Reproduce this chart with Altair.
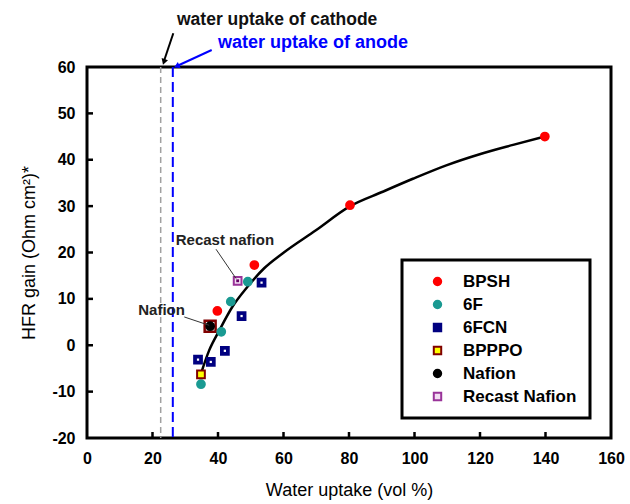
import altair as alt
import pandas as pd

# ---- measured membrane data: water uptake (vol %) vs HFR gain (Ohm cm^2) ----
series_names = ["BPSH", "6F", "6FCN", "BPPPO", "Nafion", "Recast Nafion"]

bpsh_x = [39.8, 51.1, 80.3, 139.8]
bpsh_y = [7.4, 17.3, 30.2, 45.0]

f6_x = [34.8, 41.0, 43.9, 49.1]
f6_y = [-8.4, 2.9, 9.4, 13.7]

fcn_x = [33.9, 37.8, 42.1, 47.2, 53.3]
fcn_y = [-3.1, -3.6, -1.2, 6.3, 13.5]

bpppo_x = [34.8]
bpppo_y = [-6.3]

nafion_x = [37.6]
nafion_y = [4.1]

recast_x = [46.0]
recast_y = [13.9]

# trend line through the data
curve_x = [34.8, 37.3, 40.4, 44.4, 49.0, 54.1, 59.7, 69.9, 80.1, 90.3, 99.5, 109.7, 119.9, 130.1, 139.8]
curve_y = [-6.1, -1.1, 3.2, 8.3, 12.6, 16.6, 19.8, 24.8, 29.9, 33.1, 35.9, 38.8, 41.2, 43.2, 45.0]

# reference water uptakes of the electrodes
cathode_uptake = 22.5
anode_uptake = 26.2

x_ticks = [0, 20, 40, 60, 80, 100, 120, 140, 160]
y_ticks = [-20, -10, 0, 10, 20, 30, 40, 50, 60]

fills = ["#FF0000", "#1A9A92", "#000080", "#FFFF00", "#000000", "#F2DDF2"]
strokes = ["#FF0000", "#1A9A92", "#000080", "#800000", "#000000", "#993399"]
shapes = ["circle", "circle", "square", "square", "circle", "square"]

# ---- tables ----
rows = []
for name, xs, ys in [
    ("BPSH", bpsh_x, bpsh_y),
    ("6F", f6_x, f6_y),
    ("6FCN", fcn_x, fcn_y),
    ("BPPPO", bpppo_x, bpppo_y),
    ("Nafion", nafion_x, nafion_y),
    ("Recast Nafion", recast_x, recast_y),
]:
    for xv, yv in zip(xs, ys):
        rows.append({"series": name, "x": xv, "y": yv})
points_df = pd.DataFrame(rows)
curve_df = pd.DataFrame({"x": curve_x, "y": curve_y})
fcn_df = pd.DataFrame({"x": fcn_x, "y": fcn_y})
recast_df = pd.DataFrame({"x": recast_x, "y": recast_y})
nafion_df = pd.DataFrame({"x": nafion_x, "y": nafion_y})
xt_df = pd.DataFrame({"x": x_ticks[1:-1]})
yt_df = pd.DataFrame({"y": y_ticks[1:-1]})
uptake_df = pd.DataFrame({"x": [cathode_uptake, anode_uptake], "kind": ["cathode", "anode"]})

# point labels and their leader lines (data coordinates)
label_df = pd.DataFrame({
    "x": [27.1, 29.9], "y": [22.7, 7.6],
    "text": ["Recast nafion", "Nafion"], "align": ["left", "right"],
})
leader_df = pd.DataFrame({
    "x": [39.4, 29.7], "y": [20.7, 6.1], "x2": [45.5, 37.3], "y2": [14.4, 4.3],
})

one = pd.DataFrame({"k": [0]})

W, H = 524, 371
FONT = "Liberation Sans"

xscale = alt.Scale(domain=[0, 160], nice=False, zero=False)
yscale = alt.Scale(domain=[-20, 60], nice=False, zero=False)

x_axis = alt.Axis(
    values=x_ticks, ticks=False, domain=False, grid=False,
    labelFontWeight="bold", labelFontSize=16, labelPadding=12, labelFlush=False,
    labelColor="black", title="Water uptake (vol %)", titleFontSize=18,
    titleFontWeight="normal", titlePadding=15, titleColor="black",
)
y_axis = alt.Axis(
    values=y_ticks, ticks=False, domain=False, grid=False,
    labelFontWeight="bold", labelFontSize=16, labelPadding=12,
    labelExpr="'' + datum.value", labelColor="black",
    title="HFR gain (Ohm cm²)*", titleFontSize=18, titleFontWeight="normal",
    titlePadding=13, titleColor="black",
)

legend = alt.Legend(title=None)

base_x = alt.X("x:Q", scale=xscale, axis=x_axis)
base_y = alt.Y("y:Q", scale=yscale, axis=y_axis)

# electrode water-uptake markers
cathode_line = alt.Chart(uptake_df).transform_filter("datum.kind == 'cathode'").mark_rule(
    color="#A0A0A0", strokeWidth=1.5, strokeDash=[6, 4]
).encode(x=base_x)
anode_line = alt.Chart(uptake_df).transform_filter("datum.kind == 'anode'").mark_rule(
    color="#0000FF", strokeWidth=2, strokeDash=[10, 5]
).encode(x=base_x)

curve = alt.Chart(curve_df).mark_line(color="black", strokeWidth=2.5, interpolate="monotone").encode(
    x=base_x, y=base_y
)

nafion_ring = alt.Chart(nafion_df).mark_point(
    shape="square", size=120, filled=False, stroke="#800000", strokeWidth=2.5, opacity=1
).encode(x=base_x, y=base_y)

points = alt.Chart(points_df).mark_point(size=60, strokeWidth=2, fillOpacity=1, opacity=1).encode(
    x=base_x,
    y=base_y,
    fill=alt.Fill("series:N", scale=alt.Scale(domain=series_names, range=fills), legend=legend),
    stroke=alt.Stroke("series:N", scale=alt.Scale(domain=series_names, range=strokes), legend=legend),
    shape=alt.Shape("series:N", scale=alt.Scale(domain=series_names, range=shapes), legend=legend),
)

fcn_dots = alt.Chart(fcn_df).mark_square(size=5, color="white", opacity=1).encode(x=base_x, y=base_y)
recast_dots = alt.Chart(recast_df).mark_square(size=8, color="#660066", opacity=1).encode(x=base_x, y=base_y)

# inward tick marks
x_tick_marks = alt.Chart(xt_df).mark_rule(color="black", strokeWidth=2.5).encode(
    x=base_x, y=alt.value(H), y2=alt.value(H - 6)
)
y_tick_marks = alt.Chart(yt_df).mark_rule(color="black", strokeWidth=2.5).encode(
    y=base_y, x=alt.value(0), x2=alt.value(6)
)

leaders = alt.Chart(leader_df).mark_rule(color="#333333", strokeWidth=1).encode(
    x=base_x, y=base_y, x2="x2:Q", y2="y2:Q"
)
labels_left = alt.Chart(label_df).transform_filter("datum.align == 'left'").mark_text(
    font=FONT, fontSize=15, fontWeight="bold", color="#222222", align="left", baseline="middle"
).encode(x=base_x, y=base_y, text="text:N")
labels_right = alt.Chart(label_df).transform_filter("datum.align == 'right'").mark_text(
    font=FONT, fontSize=15, fontWeight="bold", color="#222222", align="right", baseline="middle"
).encode(x=base_x, y=base_y, text="text:N")

# callouts above the frame
cathode_text = alt.Chart(one).mark_text(
    text="water uptake of cathode", font=FONT, fontSize=17.5, fontWeight="bold", color="#111111",
    align="left", baseline="middle",
).encode(x=alt.value(90), y=alt.value(-47))
anode_text = alt.Chart(one).mark_text(
    text="water uptake of anode", font=FONT, fontSize=18, fontWeight="bold", color="#0000FF",
    align="left", baseline="middle",
).encode(x=alt.value(131), y=alt.value(-24))

cathode_arrow = alt.Chart(one).mark_rule(color="black", strokeWidth=2).encode(
    x=alt.value(86.3), y=alt.value(-33.7), x2=alt.value(77), y2=alt.value(-6)
)
cathode_head = alt.Chart(one).mark_point(
    shape="triangle", size=45, filled=True, color="black", opacity=1, angle=198.5
).encode(x=alt.value(77.2), y=alt.value(-6))
anode_arrow = alt.Chart(one).mark_rule(color="#0000FF", strokeWidth=2).encode(
    x=alt.value(124.7), y=alt.value(-17), x2=alt.value(90), y2=alt.value(-1)
)
anode_head = alt.Chart(one).mark_point(
    shape="triangle", size=45, filled=True, color="#0000FF", opacity=1, angle=245
).encode(x=alt.value(90.5), y=alt.value(-1.2))

chart = alt.layer(
    cathode_line, anode_line, curve, nafion_ring, points, fcn_dots, recast_dots,
    x_tick_marks, y_tick_marks,
    leaders, labels_left, labels_right,
    cathode_arrow, cathode_head, anode_arrow, anode_head,
    cathode_text, anode_text,
).properties(
    width=W, height=H,
    autosize=alt.AutoSizeParams(type="none"),
    padding={"left": 87, "top": 67, "right": 19, "bottom": 66},
    background="white",
).configure(
    font=FONT
).configure_view(
    stroke="black", strokeWidth=3
).configure_legend(
    orient="none", legendX=315, legendY=193,
    strokeColor="black", strokeWidth=3, fillColor="white",
    padding=13, rowPadding=5, symbolSize=55, symbolOffset=14, labelOffset=17,
    labelFont=FONT, labelFontSize=17, labelFontWeight="bold", labelColor="black",
    symbolStrokeWidth=2, labelLimit=200,
)

chart.save("out.html", embed_options={"renderer": "svg", "actions": False})
